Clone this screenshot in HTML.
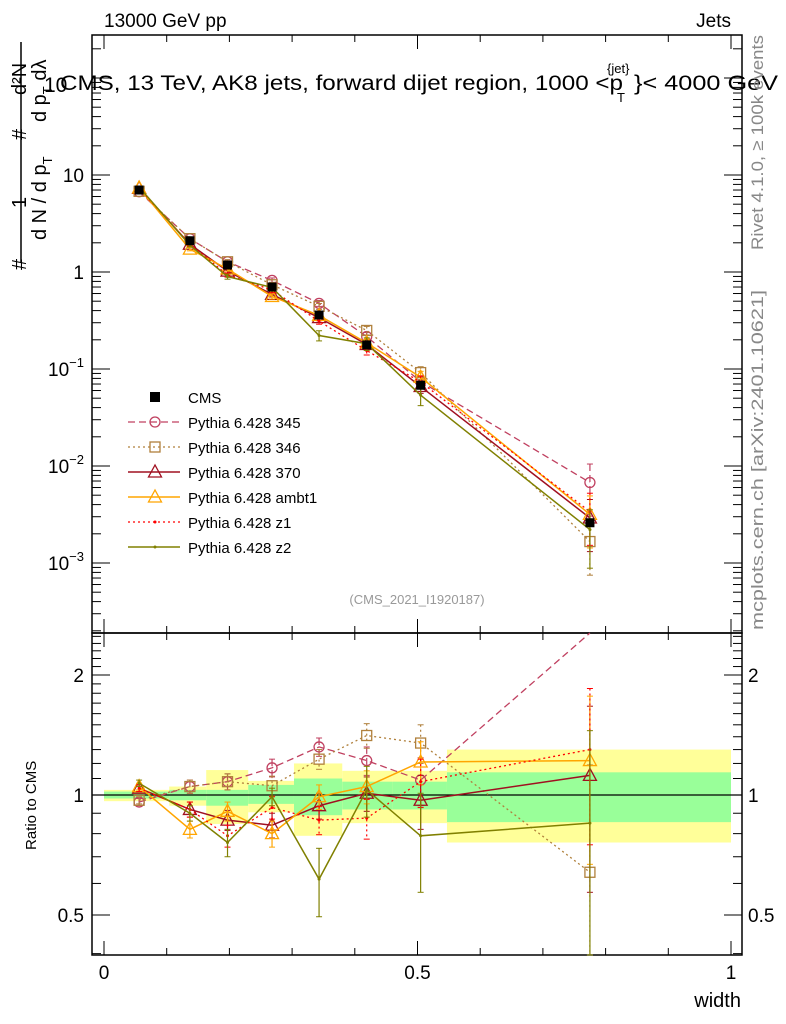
<!DOCTYPE html>
<html><head><meta charset="utf-8"><style>
body{margin:0;background:#fff}
svg{display:block;font-family:"Liberation Sans",sans-serif}
</style></head><body>
<svg id="chart" width="786" height="1024" xmlns="http://www.w3.org/2000/svg">
<g id="bands"></g>
<g id="axes"></g>
<g id="series"></g>
<g id="legend"></g>
<text x="104" y="27" font-size="19">13000 GeV pp</text>
<text x="731" y="27" font-size="19" text-anchor="end">Jets</text>
<text x="44" y="92" font-size="21">10</text>
<text x="60" y="90" font-size="21" textLength="563" lengthAdjust="spacingAndGlyphs">CMS, 13 TeV, AK8 jets, forward dijet region, 1000 &lt;p</text>
<text x="607" y="73" font-size="13">{jet}</text>
<text x="617" y="102" font-size="13">T</text>
<text x="634" y="90" font-size="21" textLength="144" lengthAdjust="spacingAndGlyphs">}&lt; 4000 GeV</text>
<text transform="translate(763,250) rotate(-90)" font-size="17" fill="#888" textLength="215" lengthAdjust="spacingAndGlyphs">Rivet 4.1.0, ≥ 100k events</text>
<text transform="translate(763,630) rotate(-90)" font-size="17" fill="#888" textLength="340" lengthAdjust="spacingAndGlyphs">mcplots.cern.ch [arXiv:2401.10621]</text>
<text x="417" y="604" font-size="13" fill="#999" text-anchor="middle">(CMS_2021_I1920187)</text>
<g font-size="20">
<line x1="21" y1="42" x2="21" y2="262" stroke="#000" stroke-width="1.5"/>
<text transform="translate(26,270) rotate(-90)">#</text>
<text transform="translate(26,208) rotate(-90)">1</text>
<text transform="translate(26,140) rotate(-90)">#</text>
<text transform="translate(26,95) rotate(-90)">d²N</text>
<text transform="translate(46,240) rotate(-90)">d N / d p<tspan font-size="13" dy="6">T</tspan></text>
<text transform="translate(46,122) rotate(-90)">d p<tspan font-size="13" dy="6">T</tspan><tspan dy="-6"> d</tspan>λ</text>
</g>
<text transform="translate(36,850) rotate(-90)" font-size="15">Ratio to CMS</text>
<text x="741" y="1007" font-size="20" text-anchor="end">width</text>
</svg>
<script>
const xPts=[0.056,0.137,0.197,0.268,0.343,0.419,0.505,0.775];
const cmsVals=[7.0,2.1,1.18,0.70,0.36,0.177,0.068,0.0026];
const cmsErr=[0.02,0.03,0.04,0.04,0.06,0.06,0.06,0.12];
const binEdges=[0,0.104,0.163,0.23,0.303,0.38,0.46,0.547,1.0];
const yelLo=[0.965,0.94,0.846,0.905,0.79,0.85,0.85,0.76];
const yelHi=[1.03,1.05,1.155,1.085,1.2,1.15,1.15,1.3];
const grnLo=[0.98,0.97,0.94,0.95,0.89,0.92,0.92,0.855];
const grnHi=[1.02,1.03,1.03,1.06,1.1,1.08,1.08,1.14];
const r345=[0.96,1.05,1.08,1.17,1.32,1.22,1.09,2.6];
const r346=[0.97,1.05,1.08,1.055,1.23,1.41,1.35,0.64];
const r370=[1.04,0.92,0.865,0.84,0.94,1.01,0.97,1.12];
const rAmbt1=[1.05,0.82,0.91,0.80,0.99,1.05,1.21,1.22];
const rZ1=[1.04,0.92,0.79,0.93,0.865,0.875,1.08,1.3];
const rZ2=[1.07,0.9,0.76,0.99,0.615,1.03,0.79,0.85];
const eStd=[0.02,0.04,0.05,0.06,0.07,0.1,0.15,0.55];
const eZ2=[0.02,0.04,0.06,0.05,0.12,0.15,0.22,0.6];
const xTicks=[0,0.5,1];
const mainTicks=[2,1,0,-1,-2,-3];
const ratioTicks=[2,1,0.5];
const series=[
 {name:'Pythia 6.428 345',r:r345,e:eStd,c:'#c04060',dash:'7,4',m:'circle',w:1.3},
 {name:'Pythia 6.428 346',r:r346,e:eStd,c:'#b0803c',dash:'2,3',m:'square',w:1.3},
 {name:'Pythia 6.428 370',r:r370,e:eStd,c:'#a01020',dash:'',m:'tri',w:1.5},
 {name:'Pythia 6.428 ambt1',r:rAmbt1,e:eStd,c:'#ffa500',dash:'',m:'tri',w:1.5},
 {name:'Pythia 6.428 z1',r:rZ1,e:eStd,c:'#ff0000',dash:'2,3',m:'dot',w:1.3},
 {name:'Pythia 6.428 z2',r:rZ2,e:eZ2,c:'#808000',dash:'',m:'dot',w:1.5}];
const X0=92,X1=742,MT=35,MB=633,RB=955;
const xs=v=>104+627*v;
const ym=v=>272-97*Math.log10(v);
const yr=v=>795-120*Math.log2(v);
const NS='http://www.w3.org/2000/svg';
function mk(p,t,a){const e=document.createElementNS(NS,t);for(const k in a)e.setAttribute(k,a[k]);p.appendChild(e);return e;}
const clamp=(y,a,b)=>Math.max(a,Math.min(b,y));
const B=document.getElementById('bands'),A=document.getElementById('axes'),S=document.getElementById('series'),L=document.getElementById('legend');
for(let i=0;i<binEdges.length-1;i++){
 const r1=mk(B,'rect',{x:xs(binEdges[i]),y:yr(yelHi[i]),width:xs(binEdges[i+1])-xs(binEdges[i]),height:yr(yelLo[i])-yr(yelHi[i]),fill:'#ffff99'});
 
 
 const r2=mk(B,'rect',{x:xs(binEdges[i]),y:yr(grnHi[i]),width:xs(binEdges[i+1])-xs(binEdges[i]),height:yr(grnLo[i])-yr(grnHi[i]),fill:'#99ff99'});
 
 
}
mk(A,'line',{x1:X0,x2:X1,y1:yr(1),y2:yr(1),stroke:'#000','stroke-width':1.2});
mk(A,'rect',{x:X0,y:MT,width:X1-X0,height:MB-MT,fill:'none',stroke:'#000','stroke-width':1.5});
mk(A,'rect',{x:X0,y:MB,width:X1-X0,height:RB-MB,fill:'none',stroke:'#000','stroke-width':1.5});
for(let v=0;v<=1.0001;v+=0.1){const maj=Math.abs(v*2-Math.round(v*2))<1e-6;const l=maj?14:7;
 for(const [yt,yb] of [[MT,MB],[MB,RB]]){mk(A,'line',{x1:xs(v),x2:xs(v),y1:yb,y2:yb-l,stroke:'#000'});mk(A,'line',{x1:xs(v),x2:xs(v),y1:yt,y2:yt+l,stroke:'#000'});}}
xTicks.forEach(v=>{const t=mk(A,'text',{x:xs(v),y:979,'font-size':19,'text-anchor':'middle'});t.textContent=String(v);
 
 });
for(let d=-4;d<=2;d++){for(let k=1;k<10;k++){const v=k*Math.pow(10,d);const y=ym(v);if(y<MT||y>MB)continue;const l=k==1?18:9;
 mk(A,'line',{x1:X0,x2:X0+l,y1:y,y2:y,stroke:'#000'});mk(A,'line',{x1:X1,x2:X1-l,y1:y,y2:y,stroke:'#000'});}}
mainTicks.forEach(d=>{if(d==2)return;const y=ym(Math.pow(10,d))+7;const t=mk(A,'text',{x:84,y:y,'font-size':19,'text-anchor':'end'});
 if(d==1)t.textContent='10';else if(d==0)t.textContent='1';else{t.textContent='10';const s=mk(t,'tspan',{dy:-9,'font-size':13});s.textContent='−'+(-d);}
 
 });
[0.4,0.5,0.6,0.7,0.8,0.9,1,1.1,1.2,1.3,1.4,1.5,1.6,1.7,1.8,1.9,2,2.1,2.2,2.3,2.4,2.5].forEach(v=>{const y=yr(v);if(y<MB||y>RB)return;const l=(v==0.5||v==1||v==2)?18:9;
 mk(A,'line',{x1:X0,x2:X0+l,y1:y,y2:y,stroke:'#000'});mk(A,'line',{x1:X1,x2:X1-l,y1:y,y2:y,stroke:'#000'});});
ratioTicks.forEach(v=>{for(const [x,a] of [[84,'end'],[748,'start']]){const t=mk(A,'text',{x:x,y:yr(v)+7,'font-size':19,'text-anchor':a});t.textContent=String(v);
 
 }});
function marker(g,m,x,y,c){
 if(m=='circle')mk(g,'circle',{cx:x,cy:y,r:5,fill:'none',stroke:c,'stroke-width':1.3});
 else if(m=='square')mk(g,'rect',{x:x-5,y:y-5,width:10,height:10,fill:'none',stroke:c,'stroke-width':1.3});
 else if(m=='tri')mk(g,'polygon',{points:`${x},${y-7} ${x-6.5},${y+5} ${x+6.5},${y+5}`,fill:'none',stroke:c,'stroke-width':1.3});
 else mk(g,'circle',{cx:x,cy:y,r:1.5,fill:c});
}
function draw(s,main){
 const g=mk(S,'g',{});
 
 
 const lo=main?MT:MB,hi=main?MB:RB;
 const ys=xPts.map((x,i)=>main?ym(cmsVals[i]*s.r[i]):yr(s.r[i]));
 mk(g,'polyline',{points:xPts.map((x,i)=>xs(x)+','+clamp(ys[i],lo,hi)).join(' '),fill:'none',stroke:s.c,'stroke-width':s.w,'stroke-dasharray':s.dash});
 xPts.forEach((x,i)=>{const v=main?cmsVals[i]*s.r[i]:s.r[i];const e=s.e[i];
  const y1=main?ym(v*(1+e)):yr(s.r[i]+e),y2=main?ym(Math.max(v*(1-e),1e-6)):yr(Math.max(s.r[i]-e,0.01));
  if(ys[i]<lo||ys[i]>hi)return;
  mk(g,'line',{x1:xs(x),x2:xs(x),y1:clamp(y1,lo,hi),y2:clamp(y2,lo,hi),stroke:s.c,'stroke-width':1.2,'stroke-dasharray':s.dash});
  mk(g,'line',{x1:xs(x)-3,x2:xs(x)+3,y1:y1,y2:y1,stroke:s.c});mk(g,'line',{x1:xs(x)-3,x2:xs(x)+3,y1:clamp(y2,lo,hi),y2:clamp(y2,lo,hi),stroke:s.c});
  marker(g,s.m,xs(x),ys[i],s.c);});
}
series.forEach(s=>{draw(s,true);draw(s,false);});
const cg=mk(S,'g',{});


xPts.forEach((x,i)=>{mk(cg,'rect',{x:xs(x)-4.5,y:ym(cmsVals[i])-4.5,width:9,height:9,fill:'#000'});});
const lY=[397,422,447,472,497,522,547];
mk(L,'rect',{x:150,y:lY[0]-5,width:10,height:10,fill:'#000'});
let t=mk(L,'text',{x:188,y:lY[0]+6,'font-size':15});t.textContent='CMS';


series.forEach((s,i)=>{const y=lY[i+1];
 mk(L,'line',{x1:128,x2:180,y1:y,y2:y,stroke:s.c,'stroke-width':s.w,'stroke-dasharray':s.dash});
 marker(L,s.m,155,y,s.c);
 const tt=mk(L,'text',{x:188,y:y+6,'font-size':15});tt.textContent=s.name;
 
 });
</script>
</body></html>
